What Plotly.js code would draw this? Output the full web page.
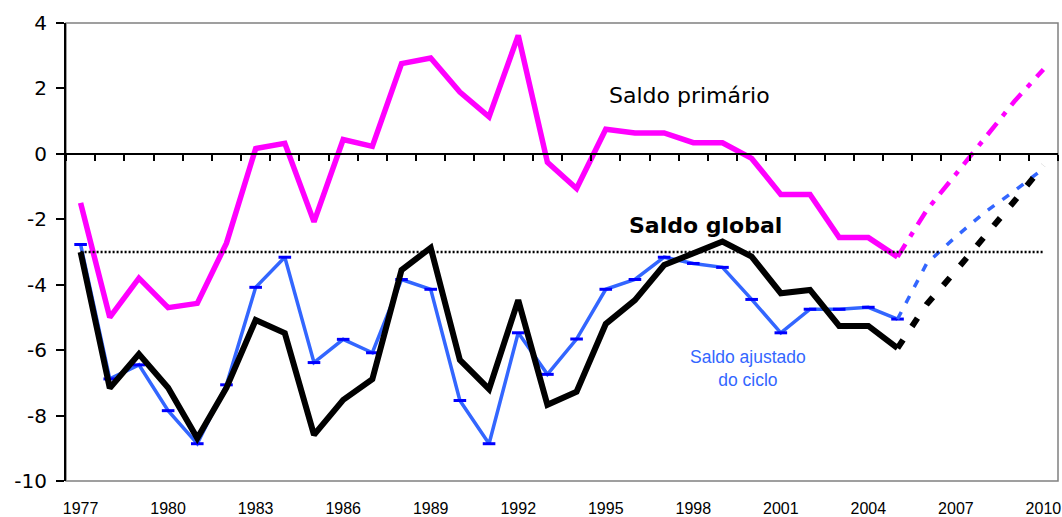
<!DOCTYPE html>
<html>
<head>
<meta charset="utf-8">
<script src="https://cdn.plot.ly/plotly-3.0.1.min.js"></script>
<style>html,body{margin:0;padding:0;background:#fff;}#chart{width:1062px;height:517px;}</style>
</head>
<body>
<div id="chart"></div>
<script>
// Historical years (1977-2005)
const yearsHist = [1977,1978,1979,1980,1981,1982,1983,1984,1985,1986,1987,1988,1989,1990,1991,1992,1993,1994,1995,1996,1997,1998,1999,2000,2001,2002,2003,2004,2005];
// Projection years (2005-2010)
const yearsProj = [2005,2006,2007,2008,2009,2010];

// Saldo primário
const primarioHist = [-1.5,-5.0,-3.8,-4.7,-4.57,-2.73,0.16,0.32,-2.08,0.44,0.23,2.76,2.93,1.89,1.13,3.62,-0.26,-1.06,0.75,0.64,0.64,0.34,0.34,-0.14,-1.24,-1.24,-2.56,-2.56,-3.15];
const primarioProj = [-3.15,-1.72,-0.62,0.5,1.6,2.58];

// Saldo global
const globalHist = [-3.0,-7.16,-6.12,-7.15,-8.69,-7.15,-5.08,-5.48,-8.59,-7.52,-6.89,-3.55,-2.87,-6.3,-7.19,-4.47,-7.67,-7.27,-5.2,-4.47,-3.4,-3.05,-2.68,-3.14,-4.26,-4.16,-5.26,-5.26,-5.94];
const globalProj = [-5.94,-4.6,-3.57,-2.54,-1.45,-0.35];

// Saldo ajustado do ciclo
const ajustadoHist = [-2.77,-6.88,-6.45,-7.85,-8.86,-7.06,-4.08,-3.16,-6.38,-5.67,-6.08,-3.84,-4.14,-7.54,-8.86,-5.47,-6.74,-5.66,-4.14,-3.84,-3.16,-3.35,-3.47,-4.45,-5.47,-4.75,-4.75,-4.69,-5.05];
const ajustadoProj = [-5.05,-3.35,-2.53,-1.78,-1.14,-0.45];

// Reference level (-3)
const refYears = [1977, 2010];
const refLevel = [-3, -3];

// Axis ticks
const xTickVals = [1977,1980,1983,1986,1989,1992,1995,1998,2001,2004,2007,2010];
const xTickText = ['1977','1980','1983','1986','1989','1992','1995','1998','2001','2004','2007','2010'];
const yTickVals = [-10,-8,-6,-4,-2,0,2,4];
const yTickText = ['-10','-8','-6','-4','-2','0','2','4'];

const MAG = '#FF00FF', BLUE = '#3366FF', DARKBLUE = '#0000FF';

const traces = [
  {x: refYears, y: refLevel, xaxis: 'x2', yaxis: 'y', mode: 'lines',
   line: {color: '#000', width: 2.5, dash: '2px,2px'}, hoverinfo: 'skip'},
  {x: yearsHist, y: ajustadoHist, mode: 'lines+markers',
   line: {color: BLUE, width: 3.5},
   marker: {symbol: 'line-ew', size: 9, color: DARKBLUE, line: {color: DARKBLUE, width: 3}}},
  {x: yearsProj, y: ajustadoProj, mode: 'lines',
   line: {color: BLUE, width: 3.5, dash: '8px,10px'}},
  {x: yearsHist, y: globalHist, mode: 'lines',
   line: {color: '#000', width: 6}},
  {x: yearsProj, y: globalProj, mode: 'lines',
   line: {color: '#000', width: 6, dash: '10px,16px'}},
  {x: yearsHist, y: primarioHist, mode: 'lines',
   line: {color: MAG, width: 5.5}},
  {x: yearsProj, y: primarioProj, mode: 'lines',
   line: {color: MAG, width: 4.5, dash: '15px,9px,5px,9px'}}
];

const layout = {
  width: 1062, height: 517,
  margin: {l: 66, r: 4, t: 23, b: 36},
  paper_bgcolor: '#fff', plot_bgcolor: '#fff',
  showlegend: false,
  xaxis: {
    range: [1976.5, 2010.5], tickmode: 'array', tickvals: xTickVals, ticktext: xTickText,
    ticks: 'outside', ticklen: 13, tickcolor: 'rgba(0,0,0,0)',
    showline: false, showgrid: false, zeroline: false,
    tickfont: {family: 'Liberation Sans, Arial, sans-serif', size: 16, color: '#000'}
  },
  xaxis2: {
    overlaying: 'x', anchor: 'free', position: 10/14, side: 'bottom',
    range: [1976.5, 2010.5], tickmode: 'linear', tick0: 1976.5, dtick: 1,
    ticks: 'outside', ticklen: 6, tickwidth: 2, tickcolor: '#000',
    showticklabels: false, showline: true, linecolor: '#000', linewidth: 2,
    showgrid: false, zeroline: false
  },
  yaxis: {
    range: [-10, 4], tickmode: 'array', tickvals: yTickVals, ticktext: yTickText,
    ticks: 'outside', ticklen: 8, tickwidth: 2, tickcolor: '#000',
    ticklabelstandoff: 5,
    showline: true, linecolor: '#000', linewidth: 2,
    showgrid: false, zeroline: false,
    tickfont: {family: 'DejaVu Sans, Verdana, sans-serif', size: 20, color: '#000'}
  },
  shapes: [
    {type: 'rect', xref: 'paper', yref: 'paper', x0: 0, x1: 1, y0: 0, y1: 1,
     line: {color: '#808080', width: 1.5}, layer: 'below'}
  ],
  annotations: [
    {x: 1997.87, y: 1.78, xref: 'x', yref: 'y', text: 'Saldo primário', showarrow: false,
     font: {family: 'DejaVu Sans, Verdana, sans-serif', size: 22, color: '#000'}},
    {x: 1998.41, y: -2.2, xref: 'x', yref: 'y', text: '<b>Saldo global</b>', showarrow: false,
     font: {family: 'DejaVu Sans, Verdana, sans-serif', size: 22, color: '#000'}},
    {x: 1999.88, y: -6.55, xref: 'x', yref: 'y', text: 'Saldo ajustado<br>do ciclo', showarrow: false,
     font: {family: 'Liberation Sans, Arial, sans-serif', size: 17.5, color: BLUE}}
  ]
};

Plotly.newPlot('chart', traces, layout, {displayModeBar: false, staticPlot: true});
</script>
</body>
</html>
